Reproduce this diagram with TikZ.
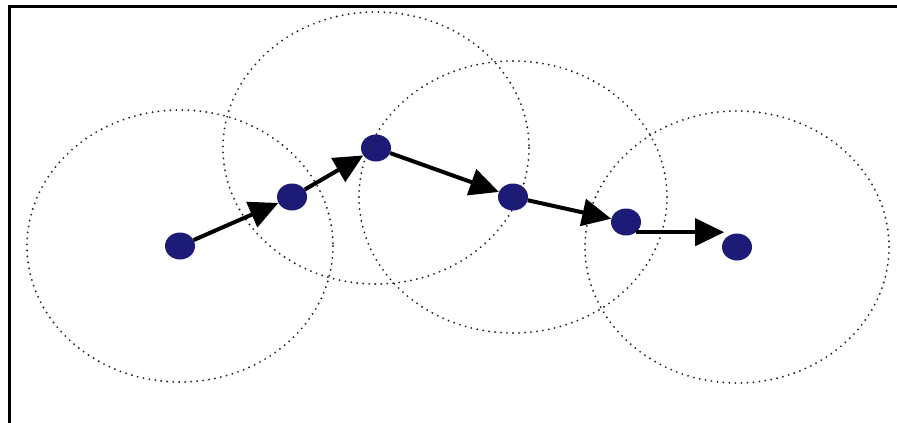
\documentclass[tikz,border=0pt]{standalone}
\usetikzlibrary{arrows.meta,shapes.geometric}

\begin{document}
\begin{tikzpicture}[
  x=1pt, y=-1pt,
  hop/.style={
    draw=none,
    ellipse,
    fill=navy,
    minimum width=30pt,
    minimum height=27pt,
    inner sep=0pt
  },
  cover/.style={
    draw=black!85,
    line width=2.1pt,
    line cap=round,
    dash pattern=on 0pt off 6pt
  },
  arrow/.style={-{Triangle[length=29pt,width=27pt]}, line width=4pt}
]
\definecolor{navy}{RGB}{28,28,120}
\useasboundingbox (0,0) rectangle (897,423);
\draw[line width=3pt] (9,423) -- (9,6) -- (897,6);

\node[hop] (n1) at (180,246) {};
\node[hop] (n2) at (292,197) {};
\node[hop] (n3) at (376,148) {};
\node[hop] (n4) at (513,197) {};
\node[hop] (n5) at (626,222) {};
\node[hop] (n6) at (737,247) {};

\draw[cover] (n1) ellipse [x radius=153, y radius=136];
\draw[cover] (n3) ellipse [x radius=153, y radius=136];
\draw[cover] (n4) ellipse [x radius=154, y radius=136];
\draw[cover] (n6) ellipse [x radius=152, y radius=136];

\draw[arrow] (n1) -- (n2);
\draw[arrow] (n2) -- (n3);
\draw[arrow] (n3) -- (n4);
\draw[arrow] (n4) -- (n5);
\draw[arrow] (n5.-45) -- (n5.-45 -| n6.150);
\end{tikzpicture}
\end{document}
